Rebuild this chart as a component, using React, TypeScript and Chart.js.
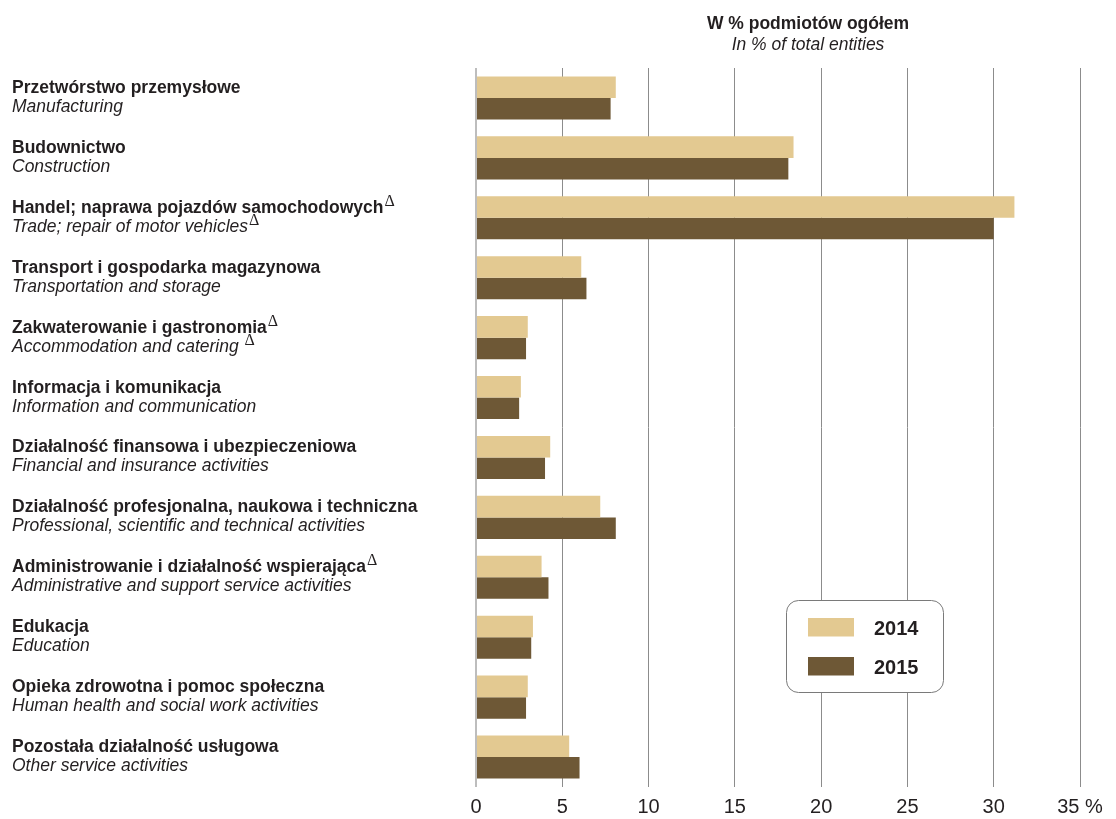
import React, { useEffect, useRef } from "react";
import { Chart, registerables } from "chart.js";

Chart.register(...registerables);

const labelsPL = [
  "Przetwórstwo przemysłowe",
  "Budownictwo",
  "Handel; naprawa pojazdów samochodowych",
  "Transport i gospodarka magazynowa",
  "Zakwaterowanie i gastronomia",
  "Informacja i komunikacja",
  "Działalność finansowa i ubezpieczeniowa",
  "Działalność profesjonalna, naukowa i techniczna",
  "Administrowanie i działalność wspierająca",
  "Edukacja",
  "Opieka zdrowotna i pomoc społeczna",
  "Pozostała działalność usługowa",
];
const labelsEN = [
  "Manufacturing",
  "Construction",
  "Trade; repair of motor vehicles",
  "Transportation and storage",
  "Accommodation and catering ",
  "Information and communication",
  "Financial and insurance activities",
  "Professional, scientific and technical activities",
  "Administrative and support service activities",
  "Education",
  "Human health and social work activities",
  "Other service activities",
];
const deltaPL = [false, false, true, false, true, false, false, false, true, false, false, false];
const deltaEN = [false, false, true, false, true, false, false, false, false, false, false, false];

const values2014 = [8.1, 18.4, 31.2, 6.1, 3.0, 2.6, 4.3, 7.2, 3.8, 3.3, 3.0, 5.4];
const values2015 = [7.8, 18.1, 30.0, 6.4, 2.9, 2.5, 4.0, 8.1, 4.2, 3.2, 2.9, 6.0];
const seriesNames = ["2014", "2015"];
const xTicks = [0, 5, 10, 15, 20, 25, 30, 35];

const titlePL = "W % podmiotów ogółem";
const titleEN = "In % of total entities";

const COLOR_2014 = "#e3c991";
const COLOR_2015 = "#6e5836";
const TEXT = "#231f20";
const FONT = '"Liberation Sans", Arial, sans-serif';

function drawWithDelta(ctx: CanvasRenderingContext2D, text: string, x: number, y: number, font: string, delta: boolean) {
  ctx.font = font;
  ctx.fillText(text, x, y);
  if (delta) {
    const w = ctx.measureText(text).width;
    ctx.font = '16px "Liberation Serif", serif';
    ctx.fillText("Δ", x + w + 1, y - 7);
  }
}

const overlayPlugin = {
  id: "overlay",
  afterDraw(chart: any) {
    const ctx: CanvasRenderingContext2D = chart.ctx;
    const yScale = chart.scales.y;
    ctx.save();
    ctx.fillStyle = TEXT;
    ctx.textAlign = "left";
    ctx.textBaseline = "alphabetic";
    labelsPL.forEach((pl, i) => {
      const cy = yScale.getPixelForTick(i);
      drawWithDelta(ctx, pl, 12, cy - 5, `bold 17.5px ${FONT}`, deltaPL[i]);
      drawWithDelta(ctx, labelsEN[i], 12, cy + 14, `italic 17.5px ${FONT}`, deltaEN[i]);
    });
    // titles
    ctx.textAlign = "center";
    ctx.font = `bold 17.5px ${FONT}`;
    ctx.fillText(titlePL, 808, 29);
    ctx.font = `italic 17.5px ${FONT}`;
    ctx.fillText(titleEN, 808, 50);
    // legend
    ctx.beginPath();
    ctx.roundRect(786.5, 600.5, 157, 92, 12);
    ctx.fillStyle = "#ffffff";
    ctx.fill();
    ctx.strokeStyle = "#7a7a7a";
    ctx.lineWidth = 1;
    ctx.stroke();
    const colors = [COLOR_2014, COLOR_2015];
    const tops = [618, 657];
    ctx.textAlign = "left";
    seriesNames.forEach((name, i) => {
      ctx.fillStyle = colors[i];
      ctx.fillRect(808, tops[i], 46, 18.5);
      ctx.fillStyle = TEXT;
      ctx.font = `bold 20px ${FONT}`;
      ctx.fillText(name, 874, tops[i] + 16.5);
    });
    ctx.restore();
  },
};

export default function App() {
  const canvasRef = useRef<HTMLCanvasElement | null>(null);

  useEffect(() => {
    if (!canvasRef.current) return;
    const chart = new Chart(canvasRef.current, {
      type: "bar",
      data: {
        labels: labelsPL,
        datasets: [
          {
            label: seriesNames[0],
            data: values2014,
            backgroundColor: COLOR_2014,
            barPercentage: 1,
            categoryPercentage: 0.72,
          },
          {
            label: seriesNames[1],
            data: values2015,
            backgroundColor: COLOR_2015,
            barPercentage: 1,
            categoryPercentage: 0.72,
          },
        ],
      },
      options: {
        indexAxis: "y",
        animation: false,
        responsive: true,
        maintainAspectRatio: false,
        layout: { padding: { left: 476, top: 68, right: 36, bottom: -8 } },
        plugins: {
          legend: { display: false },
          tooltip: { enabled: false },
        },
        scales: {
          x: {
            min: 0,
            max: 35,
            afterBuildTicks: (axis: any) => {
              axis.ticks = xTicks.map((v) => ({ value: v }));
            },
            ticks: {
              color: TEXT,
              font: { family: FONT, size: 20 },
              padding: 8,
              callback: (v: any) => (Number(v) === 35 ? "35 %" : String(v)),
            },
            grid: {
              drawTicks: false,
              color: (c: any) => (c.tick && c.tick.value === 0 ? "#bdbdbd" : "#8c8c8c"),
              lineWidth: (c: any) => (c.tick && c.tick.value === 0 ? 2 : 1),
            },
            border: { display: false },
          },
          y: {
            display: false,
            grid: { display: false },
          },
        },
      },
      plugins: [overlayPlugin],
    } as any);
    return () => chart.destroy();
  }, []);

  return (
    <div style={{ position: "fixed", left: 0, top: 0, width: 1116, height: 819, background: "#fff" }}>
      <canvas ref={canvasRef} />
    </div>
  );
}
